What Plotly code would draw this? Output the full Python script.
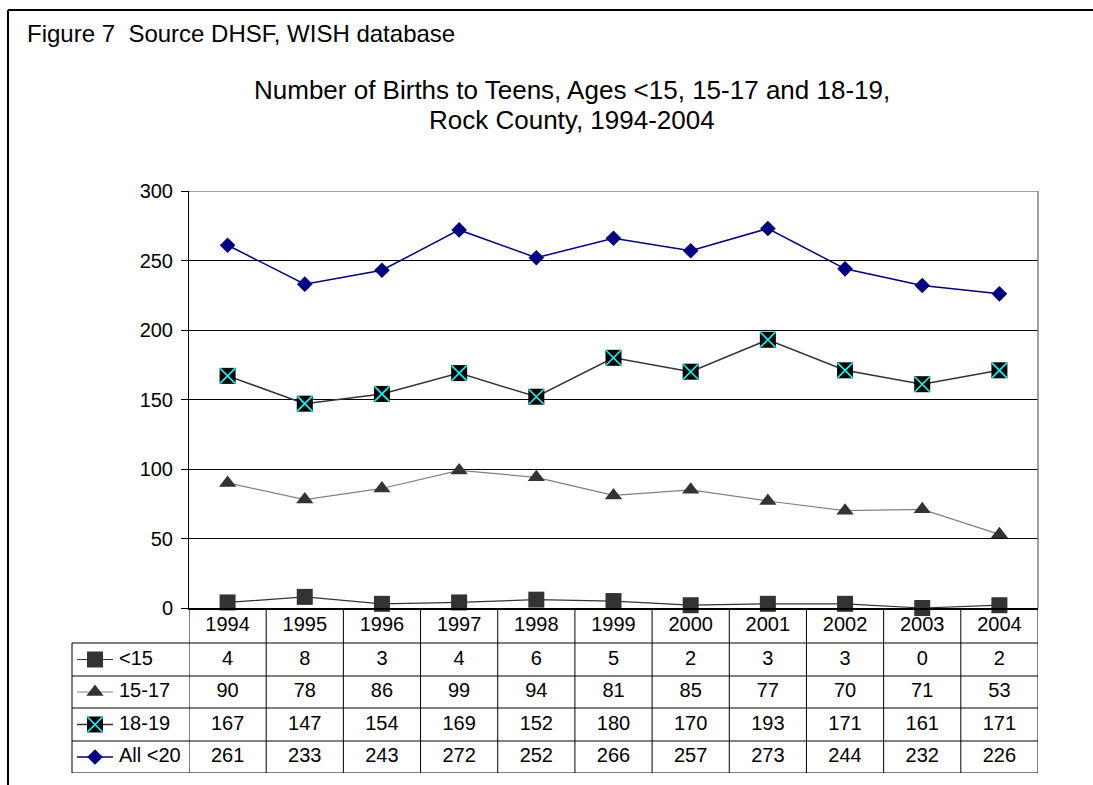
import plotly.graph_objects as go

# ---------------- data ----------------
years = [1994, 1995, 1996, 1997, 1998, 1999, 2000, 2001, 2002, 2003, 2004]
under15 = [4, 8, 3, 4, 6, 5, 2, 3, 3, 0, 2]
age15_17 = [90, 78, 86, 99, 94, 81, 85, 77, 70, 71, 53]
age18_19 = [167, 147, 154, 169, 152, 180, 170, 193, 171, 161, 171]
all_under20 = [261, 233, 243, 272, 252, 266, 257, 273, 244, 232, 226]
series_names = ["<15", "15-17", "18-19", "All <20"]
y_ticks = [0, 50, 100, 150, 200, 250, 300]

fig_title = "Figure 7  Source DHSF, WISH database"
chart_title_lines = ["Number of Births to Teens, Ages <15, 15-17 and 18-19,",
                     "Rock County, 1994-2004"]

# ---------------- layout geometry (pixels) ----------------
W, H = 1093, 785
ML, MR, MT, MB = 72, 55, 191, 12
PLOT_LEFT = 189
PLOT_BOTTOM = 608
pw = W - ML - MR
ph = H - MT - MB


def px_x(px):
    return (px - ML) / pw


def px_y(py):
    return (H - MB - py) / ph


FONT = "Arial, Liberation Sans, sans-serif"
main_dom_x = [px_x(PLOT_LEFT), 1]
main_dom_y = [px_y(PLOT_BOTTOM), 1]
tab_dom_y = [0, px_y(PLOT_BOTTOM)]

row_edges = [608, 643, 676, 708, 741, 773]
row_centers = [(row_edges[i] + row_edges[i + 1]) / 2 for i in range(5)]

styles = [
    dict(symbol="square", size=16, mcolor="#333333", lcolor="#333333", lwidth=1.2, xover=False),
    dict(symbol="triangle-up", size=15, mcolor="#333333", lcolor="#808080", lwidth=1.2, xover=False),
    dict(symbol="square", size=16, mcolor="#000000", lcolor="#333333", lwidth=1.5, xover=True),
    dict(symbol="diamond", size=12, mcolor="#000080", lcolor="#000080", lwidth=1.5, xover=False),
]
all_series = [under15, age15_17, age18_19, all_under20]

fig = go.Figure()


def add_markers(xs, ys, st, xaxis, yaxis):
    fig.add_trace(go.Scatter(
        x=xs, y=ys, mode="markers",
        marker=dict(symbol=st["symbol"], size=st["size"], color=st["mcolor"], line=dict(width=0)),
        cliponaxis=False, xaxis=xaxis, yaxis=yaxis, showlegend=False, hoverinfo="skip",
    ))
    if st["xover"]:
        fig.add_trace(go.Scatter(
            x=xs, y=ys, mode="markers",
            marker=dict(symbol="x-thin-open", size=st["size"] - 1, color="#00FFFF",
                        line=dict(color="#00FFFF", width=1.6)),
            cliponaxis=False, xaxis=xaxis, yaxis=yaxis, showlegend=False, hoverinfo="skip",
        ))


for name, vals, st in zip(series_names, all_series, styles):
    fig.add_trace(go.Scatter(
        x=years, y=vals, mode="lines", name=name,
        line=dict(color=st["lcolor"], width=st["lwidth"]),
        cliponaxis=False, xaxis="x", yaxis="y", showlegend=False,
    ))
    add_markers(years, vals, st, "x", "y")

# table: year header row
fig.add_trace(go.Scatter(
    x=years, y=[row_centers[0]] * len(years), mode="text",
    text=[str(y) for y in years], textfont=dict(family=FONT, size=20, color="black"),
    xaxis="x", yaxis="y2", showlegend=False, hoverinfo="skip",
))
# table: value rows
for i, vals in enumerate(all_series):
    fig.add_trace(go.Scatter(
        x=years, y=[row_centers[i + 1]] * len(years), mode="text",
        text=[str(v) for v in vals], textfont=dict(family=FONT, size=20, color="black"),
        xaxis="x", yaxis="y2", showlegend=False, hoverinfo="skip",
    ))

# table: legend key column
for i, (name, st) in enumerate(zip(series_names, styles)):
    yc = row_centers[i + 1]
    fig.add_trace(go.Scatter(
        x=[77, 113], y=[yc, yc], mode="lines",
        line=dict(color=st["lcolor"], width=st["lwidth"]),
        xaxis="x3", yaxis="y2", showlegend=False, hoverinfo="skip",
    ))
    add_markers([95], [yc], st, "x3", "y2")
    fig.add_trace(go.Scatter(
        x=[119], y=[yc], mode="text", text=[name], textposition="middle right",
        textfont=dict(family=FONT, size=20, color="black"),
        xaxis="x3", yaxis="y2", showlegend=False, hoverinfo="skip", cliponaxis=False,
    ))

shapes = []
# table vertical lines
for k in range(len(years) + 1):
    xv = years[0] - 0.5 + k
    shapes.append(dict(type="line", xref="x", yref="y2", x0=xv, x1=xv,
                       y0=row_edges[0], y1=row_edges[-1],
                       line=dict(color="#000000", width=1)))
# table horizontal lines
for e in row_edges[1:]:
    shapes.append(dict(type="line", xref="paper", yref="y2", x0=0, x1=1, y0=e, y1=e,
                       line=dict(color="#000000", width=1)))
# legend column left edge
shapes.append(dict(type="line", xref="paper", yref="y2", x0=0, x1=0,
                   y0=row_edges[1], y1=row_edges[-1], line=dict(color="#000000", width=1)))
# plot area top and right border (gray)
shapes.append(dict(type="line", xref="paper", yref="y", x0=main_dom_x[0], x1=1, y0=300, y1=300,
                   line=dict(color="#808080", width=1.5), layer="above"))
shapes.append(dict(type="line", xref="paper", yref="y", x0=1, x1=1, y0=0, y1=300,
                   line=dict(color="#808080", width=1.5), layer="above"))
# outer frame (top and left)
shapes.append(dict(type="line", xref="paper", yref="paper", x0=px_x(8), x1=px_x(W + 5),
                   y0=px_y(10), y1=px_y(10), line=dict(color="black", width=2)))
shapes.append(dict(type="line", xref="paper", yref="paper", x0=px_x(8), x1=px_x(8),
                   y0=px_y(10), y1=px_y(H + 5), line=dict(color="black", width=2)))

annotations = [
    dict(text=fig_title, xref="paper", yref="paper", x=px_x(25), y=px_y(33),
         xanchor="left", yanchor="middle", showarrow=False,
         font=dict(family=FONT, size=24, color="black")),
    dict(text=chart_title_lines[0], xref="paper", yref="paper", x=px_x(572), y=px_y(90),
         xanchor="center", yanchor="middle", showarrow=False,
         font=dict(family=FONT, size=26, color="black")),
    dict(text=chart_title_lines[1], xref="paper", yref="paper", x=px_x(572), y=px_y(120),
         xanchor="center", yanchor="middle", showarrow=False,
         font=dict(family=FONT, size=26, color="black")),
]

fig.update_layout(
    width=W, height=H,
    margin=dict(l=ML, r=MR, t=MT, b=MB, pad=0, autoexpand=False),
    paper_bgcolor="white", plot_bgcolor="white",
    font=dict(family=FONT, size=20, color="black"),
    showlegend=False,
    xaxis=dict(domain=main_dom_x, range=[years[0] - 0.5, years[-1] + 0.5], anchor="y",
               showticklabels=False, ticks="", showgrid=False, zeroline=False,
               showline=True, linecolor="black", linewidth=1.5),
    yaxis=dict(domain=main_dom_y, range=[0, 300], anchor="x", tickvals=y_ticks,
               ticks="outside", ticklen=7, tickcolor="black", tickwidth=1,
               showgrid=True, gridcolor="black", gridwidth=1, zeroline=False,
               showline=True, linecolor="black", linewidth=1,
               tickfont=dict(family=FONT, size=20, color="black"), ticklabelstandoff=4),
    yaxis2=dict(domain=tab_dom_y, range=[row_edges[-1], row_edges[0]], anchor="x",
                visible=False),
    xaxis3=dict(domain=[0, main_dom_x[0]], range=[ML, PLOT_LEFT], anchor="y2",
                visible=False),
    shapes=shapes,
    annotations=annotations,
)

fig.write_html(
    "out.html",
    config={"displayModeBar": False},
    post_script="document.body.style.margin='0';document.body.style.padding='0';",
)
